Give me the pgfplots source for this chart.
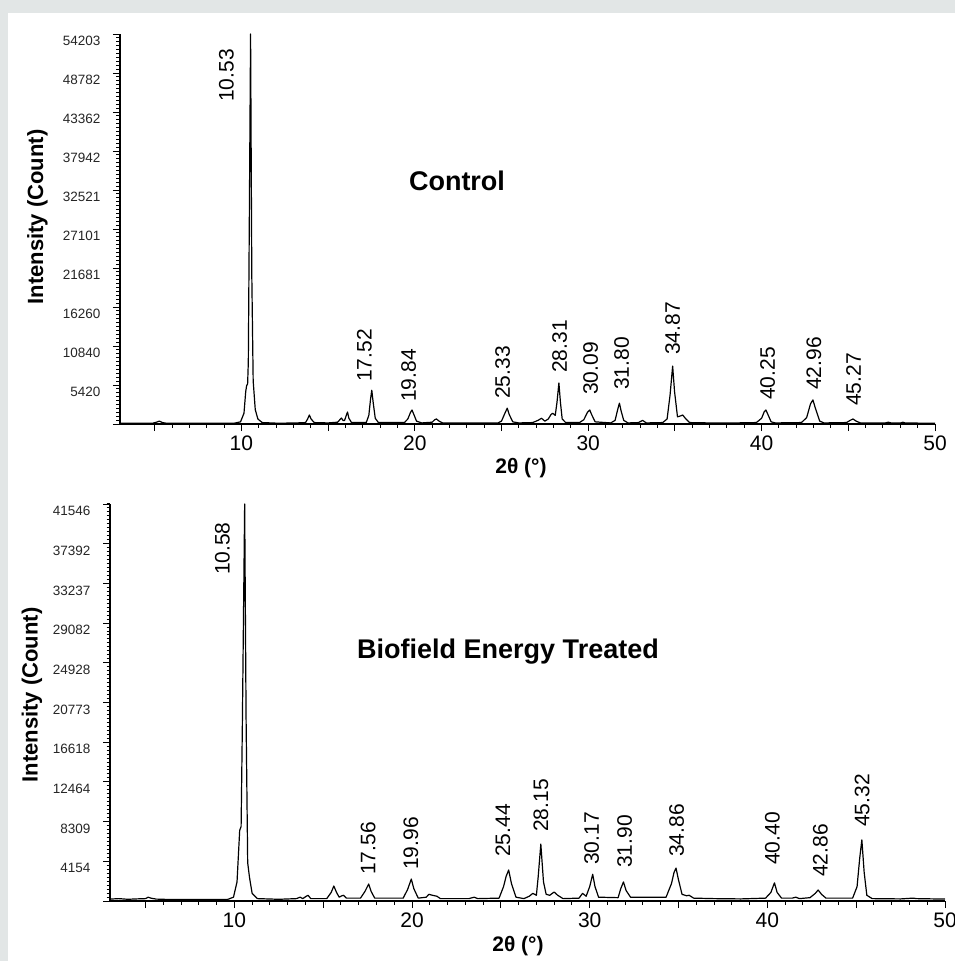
\documentclass[border=0pt]{standalone}
\usepackage{fontspec}
\setmainfont{Liberation Sans}
\usepackage{pgfplots}
\pgfplotsset{compat=1.18}
\definecolor{bggray}{HTML}{E2E6E6}
\definecolor{ticktxt}{HTML}{262626}
\pgfplotstableread{
x y
3.0 100
4.0 120
4.9 120
5.1 250
5.27 400
5.45 200
5.7 100
7.0 110
8.5 100
9.6 120
9.95 300
10.15 1500
10.25 4500
10.3 5300
10.36 5600
10.4 8600
10.46 29000
10.53 54203
10.6 20800
10.68 6000
10.8 2000
10.95 700
11.2 200
12.0 120
13.0 130
13.7 200
13.82 700
13.92 1250
14.02 700
14.2 200
15.0 150
15.55 250
15.68 600
15.77 830
15.86 500
15.95 500
16.05 1200
16.12 1670
16.2 800
16.35 200
17.2 200
17.35 1200
17.45 3500
17.52 4700
17.6 3000
17.72 800
17.9 200
19.4 200
19.6 700
19.75 1600
19.84 1950
19.95 1300
20.1 400
20.4 150
21.0 250
21.15 600
21.25 700
21.4 400
21.6 150
24.8 150
25.0 400
25.18 1400
25.33 2200
25.45 1300
25.65 300
26.0 150
26.8 200
27.1 500
27.31 800
27.5 400
27.7 700
27.85 1300
27.95 1500
28.1 1200
28.2 3000
28.31 5700
28.4 3000
28.5 700
28.7 200
29.5 200
29.75 600
29.95 1600
30.09 1950
30.2 1300
30.4 300
31.3 150
31.55 500
31.7 2000
31.80 2900
31.9 1800
32.05 500
32.3 150
32.9 200
33.14 500
33.35 150
34.3 200
34.55 700
34.72 4000
34.87 8050
34.98 4500
35.15 1000
35.3 1100
35.45 1250
35.6 800
35.85 200
37.0 150
38.0 130
39.7 200
40.0 800
40.15 1700
40.25 1950
40.35 1400
40.55 300
40.8 150
42.3 200
42.6 900
42.82 2800
42.96 3350
43.1 2200
43.35 400
43.6 150
44.9 200
45.1 500
45.27 700
45.45 400
45.7 150
47.1 130
47.3 250
47.5 130
48.0 130
48.15 250
48.3 130
50.0 120
}\controldata
\pgfplotstableread{
x y
3.0 200
3.5 250
4.0 180
4.5 220
5.0 250
5.15 400
5.3 300
5.6 200
6.5 150
8.0 150
9.6 150
9.95 400
10.15 2000
10.3 7400
10.38 7800
10.45 18400
10.58 41546
10.66 19100
10.75 4000
10.85 2500
11.0 800
11.3 250
12.5 180
13.5 250
13.7 400
13.85 250
14.05 500
14.15 600
14.3 250
15.2 250
15.45 900
15.6 1570
15.75 900
15.9 400
16.05 550
16.15 600
16.3 300
17.1 300
17.35 1000
17.56 1780
17.7 1000
17.9 300
19.5 300
19.75 1200
19.96 2300
20.1 1300
20.35 300
20.8 400
20.95 700
21.15 600
21.4 500
21.6 250
23.2 250
23.5 400
23.7 250
24.9 300
25.15 1500
25.3 2600
25.44 3240
25.6 1800
25.85 400
26.3 250
26.6 500
26.8 800
27.0 600
27.1 2500
27.25 5960
27.4 2000
27.55 700
27.75 600
28.0 940
28.2 600
28.5 250
29.4 300
29.6 800
29.8 500
30.0 1500
30.17 2800
30.3 1500
30.5 400
31.6 350
31.75 1300
31.9 2000
32.05 1100
32.3 400
34.3 400
34.6 1800
34.75 3000
34.86 3450
35.0 2200
35.2 700
35.45 550
35.6 600
35.85 300
37.0 250
38.5 220
39.9 300
40.2 900
40.4 1900
40.55 900
40.8 300
41.4 300
41.6 400
41.8 250
42.4 350
42.7 800
42.86 1150
43.05 700
43.3 300
44.8 300
45.05 1500
45.2 4500
45.32 6400
45.45 3000
45.6 600
45.9 250
47.5 220
48.2 300
48.4 250
50.0 200
}\treateddata
\pgfplotsset{
  xrdaxis/.style={
    scale only axis,
    anchor=south west,
    axis x line*=bottom,
    axis y line*=left,
    axis line style={line width=1.3pt,-},
    xmin=3, xmax=50,
    ymin=0,
    scaled y ticks=false,
    scaled x ticks=false,
    xtick={5,10,...,50},
    xticklabels={,10,,20,,30,,40,,50},
    minor x tick num=4,
    tick align=outside,
    major tick length=7pt,
    minor tick length=3.5pt,
    every tick/.style={black,line width=1pt},
    xticklabel style={font=\fontsize{21}{21}\selectfont, text=black, yshift=-1pt},
    yticklabel style={font=\fontsize{13.5}{14}\selectfont, text=ticktxt, yshift=-7pt, xshift=-9pt},
    clip=false,
  },
}
\tikzset{peak/.style={rotate=90, anchor=west, inner sep=0pt, font=\fontsize{21}{21}\selectfont}}
\begin{document}
\begin{tikzpicture}
\useasboundingbox (0pt,0pt) rectangle (955pt,-961pt);
\fill[bggray] (0pt,0pt) rectangle (955pt,-961pt);
\fill[white] (8pt,-13pt) rectangle (955pt,-961pt);
% Top: Control
\begin{axis}[xrdaxis,
  at={(120pt,-424pt)}, width=815pt, height=390pt,
  ymax=54203,
  ytick={0,5420,10840,16260,21681,27101,32521,37942,43362,48782,54203},
  yticklabels={,5420,10840,16260,21681,27101,32521,37942,43362,48782,54203},
  minor ytick={0,542,...,54000},
]
\addplot[black, line width=1.2pt, line join=round] table[x=x,y=y] {\controldata};
\node[peak] at (axis cs:9.13,44760) {10.53};
\node[peak] at (axis cs:17.10,5840) {17.52};
\node[peak] at (axis cs:19.64,3060) {19.84};
\node[peak] at (axis cs:25.06,3475) {25.33};
\node[peak] at (axis cs:28.35,7090) {28.31};
\node[peak] at (axis cs:30.14,4030) {30.09};
\node[peak] at (axis cs:31.93,4730) {31.80};
\node[peak] at (axis cs:34.87,9590) {34.87};
\node[peak] at (axis cs:40.35,3340) {40.25};
\node[peak] at (axis cs:43.01,4730) {42.96};
\node[peak] at (axis cs:45.31,2500) {45.27};
\end{axis}
% Bottom: Treated
\begin{axis}[xrdaxis,
  at={(110pt,-901pt)}, width=835pt, height=397pt,
  ymax=41546,
  ytick={0,4154,8309,12464,16618,20773,24928,29082,33237,37392,41546},
  yticklabels={,4154,8309,12464,16618,20773,24928,29082,33237,37392,41546},
  minor ytick={0,415.5,...,41500},
]
\addplot[black, line width=1.2pt, line join=round] table[x=x,y=y] {\treateddata};
\node[peak] at (axis cs:9.33,34100) {10.58};
\node[peak] at (axis cs:17.53,2720) {17.56};
\node[peak] at (axis cs:19.94,3240) {19.96};
\node[peak] at (axis cs:25.11,4600) {25.44};
\node[peak] at (axis cs:27.25,7220) {28.15};
\node[peak] at (axis cs:30.11,3770) {30.17};
\node[peak] at (axis cs:31.97,3450) {31.90};
\node[peak] at (axis cs:34.89,4600) {34.86};
\node[peak] at (axis cs:40.28,3770) {40.40};
\node[peak] at (axis cs:42.99,2510) {42.86};
\node[peak] at (axis cs:45.34,7740) {45.32};
\end{axis}
% Titles and axis labels
\node[font=\fontsize{27}{27}\selectfont\bfseries] at (457pt,-181pt) {Control};
\node[font=\fontsize{27}{27}\selectfont\bfseries] at (508pt,-652pt) {Biofield Energy Treated};
\node[font=\fontsize{22}{22}\selectfont\bfseries, rotate=90] at (37.5pt,-217pt) {Intensity (Count)};
\node[font=\fontsize{22}{22}\selectfont\bfseries, rotate=90] at (32pt,-695pt) {Intensity (Count)};
\node[font=\fontsize{21}{21}\selectfont\bfseries] at (521pt,-468pt) {2θ (°)};
\node[font=\fontsize{21}{21}\selectfont\bfseries] at (518pt,-946pt) {2θ (°)};
\end{tikzpicture}
\end{document}
